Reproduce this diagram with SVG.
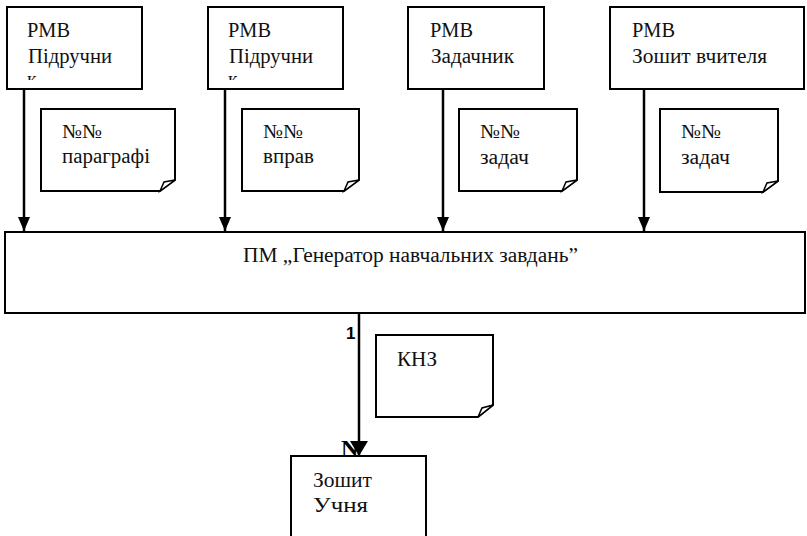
<svg xmlns="http://www.w3.org/2000/svg" width="807" height="536" viewBox="0 0 807 536">
<style>
.box{fill:#fff;stroke:#000;stroke-width:2}
.doc{fill:#fff;stroke:#000;stroke-width:2;stroke-linejoin:miter}
.curl{fill:#fff;stroke:#000;stroke-width:1.5}
.ln{stroke:#000;stroke-width:2.5;fill:none}
text{font-family:'Liberation Serif','Times New Roman',serif;font-size:20px;fill:#111}
.lbl{font-family:'Liberation Sans',Arial,sans-serif;font-weight:bold;font-size:17px;fill:#000}
.nl{font-weight:bold;font-size:24px;fill:#000}
</style>
<defs>
<marker id="ah" markerUnits="userSpaceOnUse" markerWidth="14" markerHeight="14" refX="14" refY="6" orient="auto">
<path d="M0,0 L14,6 L0,12 Z" fill="#000"/>
</marker>
<marker id="ahb" markerUnits="userSpaceOnUse" markerWidth="16" markerHeight="20" refX="15" refY="9" orient="auto">
<path d="M0,0 L15,9 L0,18 Z" fill="#000"/>
</marker>
<clipPath id="c1"><rect x="0" y="0" width="807" height="80"/></clipPath>
</defs>

<g id="box1">
<rect class="box" x="7" y="7" width="135" height="82"/>
<text x="27" y="37" textLength="43" lengthAdjust="spacingAndGlyphs">РМВ</text>
<text x="28" y="63" textLength="84" lengthAdjust="spacingAndGlyphs">Підручни</text>
<text x="27" y="86" clip-path="url(#c1)">к</text>
</g>
<g id="box2">
<rect class="box" x="208" y="7" width="135" height="82"/>
<text x="228" y="37" textLength="43" lengthAdjust="spacingAndGlyphs">РМВ</text>
<text x="229" y="63" textLength="84" lengthAdjust="spacingAndGlyphs">Підручни</text>
<text x="228" y="86" clip-path="url(#c1)">к</text>
</g>
<g id="box3">
<rect class="box" x="408" y="7" width="136" height="82"/>
<text x="430" y="37" textLength="43" lengthAdjust="spacingAndGlyphs">РМВ</text>
<text x="431" y="63" textLength="83" lengthAdjust="spacingAndGlyphs">Задачник</text>
</g>
<g id="box4">
<rect class="box" x="610" y="7" width="194" height="82"/>
<text x="632" y="37" textLength="43" lengthAdjust="spacingAndGlyphs">РМВ</text>
<text x="632" y="63" textLength="135" lengthAdjust="spacingAndGlyphs">Зошит вчителя</text>
</g>

<g id="doc1">
<path class="doc" d="M41,109 H175 V180 L160,191 H41 Z"/>
<path class="curl" d="M160,191 L164,182 L175,180 Z"/>
<text x="62" y="138" textLength="40" lengthAdjust="spacingAndGlyphs">№№</text>
<text x="62" y="163" textLength="88" lengthAdjust="spacingAndGlyphs">параграфі</text>
</g>
<g id="doc2">
<path class="doc" d="M242,109 H359 V180 L344,191 H242 Z"/>
<path class="curl" d="M344,191 L348,182 L359,180 Z"/>
<text x="263" y="138" textLength="40" lengthAdjust="spacingAndGlyphs">№№</text>
<text x="263" y="163" textLength="51" lengthAdjust="spacingAndGlyphs">вправ</text>
</g>
<g id="doc3">
<path class="doc" d="M459,109 H577 V180 L562,191 H459 Z"/>
<path class="curl" d="M562,191 L566,182 L577,180 Z"/>
<text x="480" y="138" textLength="40" lengthAdjust="spacingAndGlyphs">№№</text>
<text x="480" y="164" textLength="49" lengthAdjust="spacingAndGlyphs">задач</text>
</g>
<g id="doc4">
<path class="doc" d="M660,109 H778 V181 L763,192 H660 Z"/>
<path class="curl" d="M763,192 L767,183 L778,181 Z"/>
<text x="681" y="138" textLength="40" lengthAdjust="spacingAndGlyphs">№№</text>
<text x="681" y="164" textLength="49" lengthAdjust="spacingAndGlyphs">задач</text>
</g>

<g id="main">
<rect class="box" x="5" y="232" width="800" height="81"/>
<text x="243" y="262" textLength="335" lengthAdjust="spacingAndGlyphs">ПМ „Генератор навчальних завдань”</text>
</g>

<g id="doc5">
<path class="doc" d="M376,335 H493 V405 L478,417 H376 Z"/>
<path class="curl" d="M478,417 L482,408 L493,405 Z"/>
<text x="397" y="366" textLength="40" lengthAdjust="spacingAndGlyphs">КНЗ</text>
</g>

<g id="pupil">
<rect class="box" x="291" y="456" width="135" height="90"/>
<text x="313" y="487" textLength="59" lengthAdjust="spacingAndGlyphs">Зошит</text>
<text x="313" y="512" textLength="55" lengthAdjust="spacingAndGlyphs">Учня</text>
</g>

<g id="connectors">
<line class="ln" x1="24" y1="89" x2="24" y2="231" marker-end="url(#ah)"/>
<line class="ln" x1="225" y1="89" x2="225" y2="231" marker-end="url(#ah)"/>
<line class="ln" x1="443" y1="89" x2="443" y2="231" marker-end="url(#ah)"/>
<line class="ln" x1="644" y1="89" x2="644" y2="231" marker-end="url(#ah)"/>
<text class="lbl" x="346" y="339">1</text>
<text class="nl" x="341" y="456">N</text>
<line class="ln" x1="359" y1="313" x2="359" y2="456" marker-end="url(#ahb)"/>
</g>
</svg>
